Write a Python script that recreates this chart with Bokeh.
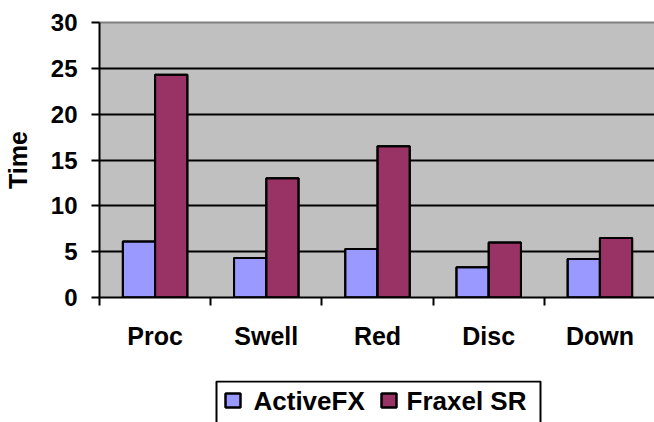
from bokeh.plotting import figure
from bokeh.layouts import column
from bokeh.models import (Range1d, FixedTicker, LinearAxis, ColumnDataSource, Grid)
from bokeh.core.properties import value
from bokeh.transform import dodge
from bokeh.embed import file_html
from bokeh.resources import INLINE

categories = ["Proc", "Swell", "Red", "Disc", "Down"]
activefx = [6.1, 4.3, 5.3, 3.3, 4.2]
fraxel_sr = [24.3, 13.0, 16.5, 6.0, 6.5]
y_ticks = [0, 5, 10, 15, 20, 25, 30]
series_names = ["ActiveFX", "Fraxel SR"]
colors = ["#9999FF", "#993366"]

centers = [i + 0.5 for i in range(len(categories))]
bounds = list(range(len(categories) + 1))
src = ColumnDataSource(dict(x=centers, a=activefx, f=fraxel_sr))

FONT = "Liberation Sans"

p = figure(frame_width=556, frame_height=275,
           x_range=Range1d(0, len(categories)), y_range=Range1d(y_ticks[0], y_ticks[-1]),
           output_backend="svg", toolbar_location=None,
           min_border_left=98, min_border_right=0, min_border_top=22, min_border_bottom=83,
           x_axis_type=None, y_axis_type=None)
p.background_fill_color = "#C0C0C0"
p.border_fill_color = "white"
p.outline_line_color = None

p.add_layout(Grid(dimension=1, ticker=FixedTicker(ticks=y_ticks[1:-1]),
                  grid_line_color="black", grid_line_width=2))

top = LinearAxis(ticker=FixedTicker(ticks=[]), axis_line_color="#808080", axis_line_width=2,
                 major_tick_line_color=None, minor_tick_line_color=None,
                 major_label_text_font_size="0px", major_tick_out=0, major_tick_in=0,
                 major_label_standoff=0)
p.add_layout(top, "above")

yaxis = LinearAxis(ticker=FixedTicker(ticks=y_ticks), axis_label="Time",
                   axis_line_color="black", axis_line_width=2,
                   major_tick_line_color="black", major_tick_line_width=2,
                   major_tick_out=8, major_tick_in=0,
                   minor_tick_line_color=None,
                   major_label_text_font=FONT, major_label_text_font_style="bold",
                   major_label_text_font_size="24px", major_label_standoff=14,
                   major_label_text_color="black",
                   axis_label_text_font=FONT, axis_label_text_font_style="bold",
                   axis_label_text_font_size="25px", axis_label_standoff=16,
                   axis_label_text_color="black")
p.add_layout(yaxis, "left")

xaxis = LinearAxis(ticker=FixedTicker(ticks=centers, minor_ticks=bounds),
                   major_label_overrides={c: n for c, n in zip(centers, categories)},
                   axis_line_color="black", axis_line_width=2,
                   major_tick_line_color=None, major_tick_out=0, major_tick_in=0,
                   minor_tick_line_color="black", minor_tick_line_width=2,
                   minor_tick_out=8, minor_tick_in=0,
                   major_label_text_font=FONT, major_label_text_font_style="bold",
                   major_label_text_font_size="25px", major_label_standoff=16,
                   major_label_text_color="black")
p.add_layout(xaxis, "below")

for col, off, color in (("a", -0.145, colors[0]), ("f", 0.145, colors[1])):
    p.vbar(x=dodge("x", off, range=p.x_range), top=col, width=0.29, bottom=0,
           source=src, fill_color=color, line_color="black", line_width=2)
    p.vbar(x=dodge("x", off, range=p.x_range), top=col, width=0.29, bottom=0,
           source=src, fill_color=None, line_color="black", line_width=2)

# legend strip below the chart (page-pixel x units, y measured downward from its top)
lg = figure(frame_width=556, frame_height=42,
            x_range=Range1d(98, 654), y_range=Range1d(42, 0),
            output_backend="svg", toolbar_location=None,
            min_border_left=98, min_border_right=0, min_border_top=0, min_border_bottom=0,
            x_axis_type=None, y_axis_type=None)
lg.xgrid.visible = False
lg.ygrid.visible = False
lg.outline_line_color = None
lg.background_fill_color = "white"
lg.border_fill_color = "white"

lg.quad(left=[215], right=[539], top=[1], bottom=[60],
        fill_color="white", line_color="black", line_width=2)
sw = ColumnDataSource(dict(l=[224, 380], r=[239, 395], t=[13, 13], b=[27, 27],
                           c=colors, tx=[252, 405], ty=[20, 20], name=series_names))
lg.quad(left="l", right="r", top="t", bottom="b", fill_color="c", source=sw,
        line_color="black", line_width=2)
lg.quad(left="l", right="r", top="t", bottom="b", fill_color=None, source=sw,
        line_color="black", line_width=2)
lg.text(x="tx", y="ty", text="name", source=sw, text_font=value(FONT),
        text_font_style="bold", text_font_size="26px", text_color="black",
        text_baseline="middle", text_align="left")

layout = column(p, lg, spacing=0)
open("out.html", "w").write(file_html(layout, INLINE))
